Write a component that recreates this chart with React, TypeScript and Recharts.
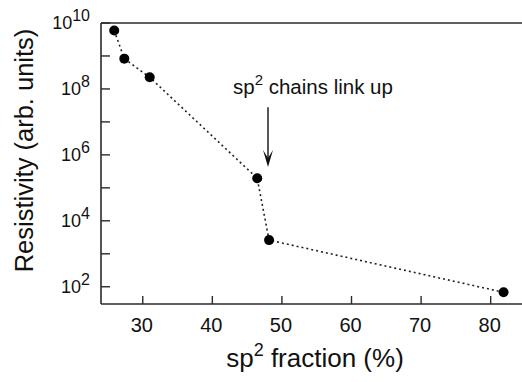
import React from "react";
import { LineChart, Line, XAxis, YAxis, ReferenceLine } from "recharts";

const sp2Fraction = [25.9, 27.35, 31.0, 46.45, 48.15, 81.85];
const resistivity = [5.9e9, 8.3e8, 2.25e8, 1.95e5, 2.6e3, 68];
const xTicks = [30, 40, 50, 60, 70, 80];
const yTicks = [1e2, 1e3, 1e4, 1e5, 1e6, 1e7, 1e8, 1e9, 1e10];
const annotation = { x: 48, yFrom: 2.8e7, yTo: 4.3e5, text: "sp", sup: "2", rest: " chains link up" };

const data = sp2Fraction.map((x, i) => ({ x, y: resistivity[i] }));

const FONT = "'Liberation Sans', Arial, Helvetica, sans-serif";
const AXIS = "#2a2a2a";

const YTick = (props: any) => {
  const { x, y, payload } = props;
  const e = Math.round(Math.log10(payload.value));
  return (
    <g>
      <line x1={x} y1={y} x2={x + 9} y2={y} stroke={AXIS} strokeWidth={1.4} />
      {e % 2 === 0 && (
        <text x={x - 11} y={y + 6} textAnchor="end" fontSize={18} fill="#111" fontFamily={FONT}>
          10
          <tspan dy={-8} fontSize={16}>{e}</tspan>
        </text>
      )}
    </g>
  );
};

const XTick = (props: any) => {
  const { x, y, payload } = props;
  return (
    <g>
      <line x1={x} y1={y} x2={x} y2={y - 8} stroke={AXIS} strokeWidth={1.4} />
      <text x={x - 1} y={y + 28} textAnchor="middle" fontSize={20} fill="#111" fontFamily={FONT}>
        {payload.value}
      </text>
    </g>
  );
};

const Arrow = (props: any) => {
  const { x1, y1, x2, y2 } = props;
  return (
    <g>
      <text x={x1 - 35} y={y1 - 13} fontSize={20.5} fill="#111" fontFamily={FONT}>
        {annotation.text}
        <tspan dy={-9} fontSize={15}>{annotation.sup}</tspan>
        <tspan dy={9}>{annotation.rest}</tspan>
      </text>
      <line x1={x1} y1={y1} x2={x2} y2={y2 - 8} stroke="#111" strokeWidth={1.4} />
      <path d={`M ${x2 - 5} ${y2 - 17} L ${x2} ${y2 - 9} L ${x2 + 5} ${y2 - 17} L ${x2} ${y2} Z`} fill="#111" />
    </g>
  );
};

export default function App() {
  return (
    <div style={{ position: "absolute", left: 0, top: 0, background: "#fff" }}>
      <LineChart width={522} height={382} data={data} margin={{ top: 23, right: 0, bottom: 0, left: 0 }}>
        <XAxis
          type="number"
          dataKey="x"
          domain={[24, 84.5]}
          ticks={xTicks}
          allowDataOverflow
          height={78}
          stroke={AXIS}
          strokeWidth={1.6}
          tickSize={0}
          tickMargin={0}
          tick={<XTick />}
          label={{
            content: () => (
              <text x={315} y={367} textAnchor="middle" fontSize={26} fill="#111" fontFamily={FONT}>
                sp
                <tspan dy={-11} fontSize={18}>2</tspan>
                <tspan dy={11}> fraction (%)</tspan>
              </text>
            ),
          }}
        />
        <YAxis
          type="number"
          dataKey="y"
          scale="log"
          domain={[30, 1e10]}
          ticks={yTicks}
          allowDataOverflow
          width={101}
          stroke={AXIS}
          strokeWidth={1.6}
          tickSize={0}
          tickMargin={0}
          tick={<YTick />}
          interval={0}
          label={{
            content: () => (
              <text
                x={33}
                y={150.5}
                transform="rotate(-90 33 150.5)"
                textAnchor="middle"
                fontSize={25.5}
                fill="#111"
                fontFamily={FONT}
              >
                Resistivity (arb. units)
              </text>
            ),
          }}
        />
        <ReferenceLine y={1e10} stroke={AXIS} strokeWidth={1.6} />
        <ReferenceLine
          segment={[
            { x: annotation.x, y: annotation.yFrom },
            { x: annotation.x, y: annotation.yTo },
          ]}
          shape={<Arrow />}
        />
        <Line
          type="linear"
          dataKey="y"
          stroke="#222"
          strokeWidth={1.6}
          strokeDasharray="2 3"
          dot={{ r: 5, fill: "#000", stroke: "#000", strokeWidth: 0 }}
          isAnimationActive={false}
        />
      </LineChart>
    </div>
  );
}
